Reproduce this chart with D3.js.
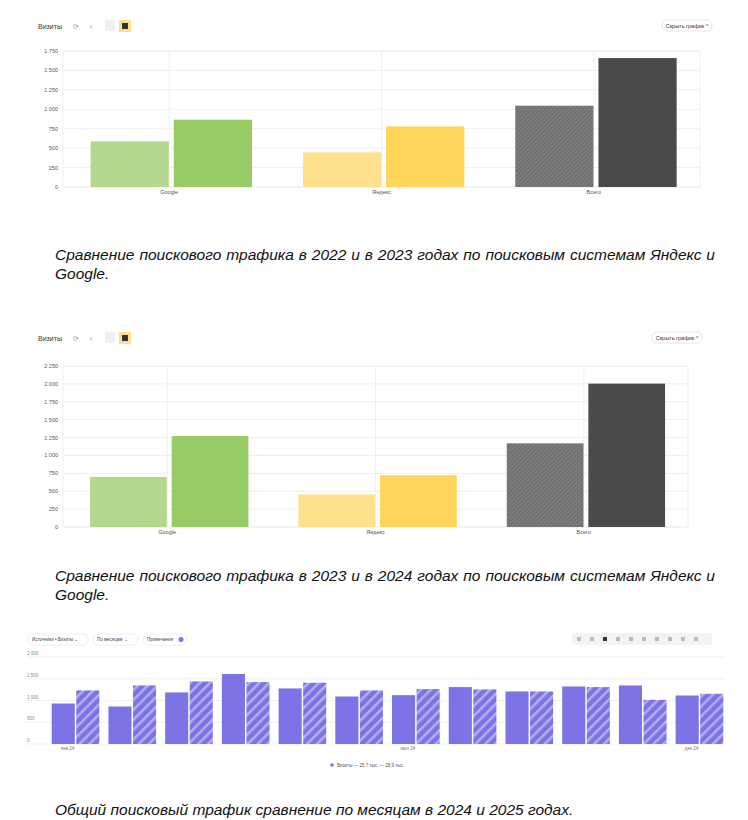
<!DOCTYPE html>
<html><head><meta charset="utf-8">
<script src="https://cdn.jsdelivr.net/npm/d3@7"></script>
<style>
body{margin:0;background:#fff;font-family:"Liberation Sans",Arial,sans-serif}
.cap{position:absolute;left:55px;width:660px;font-style:italic;font-size:15.5px;line-height:19px;text-align:justify;color:#111}
</style></head><body>
<svg id="svg" width="748" height="820" style="position:absolute;left:0;top:0"></svg>
<div class="cap" style="top:245px">Сравнение поискового трафика в 2022 и в 2023 годах по поисковым системам Яндекс и Google.</div>
<div class="cap" style="top:566px">Сравнение поискового трафика в 2023 и в 2024 годах по поисковым системам Яндекс и Google.</div>
<div class="cap" style="top:800px">Общий поисковый трафик сравнение по месяцам в 2024 и 2025 годах.</div>
<script>
const engines = ['Google', 'Яндекс', 'Всего'];
const chart1Prev = [587, 446, 1046];
const chart1Curr = [866, 780, 1659];
const chart1Ticks = [0, 250, 500, 750, 1000, 1250, 1500, 1750];
const chart2Prev = [700, 455, 1169];
const chart2Curr = [1271, 724, 2004];
const chart2Ticks = [0, 250, 500, 750, 1000, 1250, 1500, 1750, 2000, 2250];
const months = ['янв 24','','','','','','июл 24','','','','','дек 24'];
const monthPrev = [931, 862, 1185, 1608, 1277, 1092, 1123, 1308, 1208, 1323, 1346, 1115];
const monthCurr = [1231, 1346, 1438, 1423, 1408, 1231, 1262, 1254, 1208, 1308, 1015, 1154];
const monthTicks = [0, 500, 1000, 1500, 2000];

const svg = d3.select('#svg');
const defs = svg.append('defs');
function pattern(id, bg, fg, size, w) {
  const p = defs.append('pattern').attr('id', id).attr('patternUnits', 'userSpaceOnUse')
    .attr('width', size).attr('height', size).attr('patternTransform', 'rotate(45)');
  p.append('rect').attr('width', size).attr('height', size).attr('fill', bg);
  p.append('rect').attr('width', w).attr('height', size).attr('fill', fg);
}
pattern('pg', '#b7da92', '#aed487', 3, 1);
pattern('py', '#ffe393', '#ffdd85', 3, 1);
pattern('pk', '#7d7d7d', '#6a6a6a', 3, 1);
pattern('pv', '#7b73e6', '#b4afef', 7, 2.5);
const fmt = d => d3.format(',')(d).replace(/,/g, ' ');

function toolbar(y, right) {
  const g = svg.append('g').attr('font-size', 7).attr('fill', '#333');
  g.append('text').attr('x', 38).attr('y', y + 3).text('Визиты');
  g.append('text').attr('x', 73).attr('y', y + 3).attr('fill', '#999').text('⟳');
  g.append('text').attr('x', 89).attr('y', y + 3).attr('fill', '#999').text('≈');
  g.append('rect').attr('x', 105).attr('y', y - 6).attr('width', 10).attr('height', 11).attr('fill', '#f0f0f0');
  g.append('rect').attr('x', 119).attr('y', y - 6).attr('width', 12).attr('height', 12).attr('fill', '#ffe08a');
  g.append('rect').attr('x', 122).attr('y', y - 3).attr('width', 6).attr('height', 6).attr('fill', '#333');
  g.append('rect').attr('x', right - 50).attr('y', y - 6).attr('width', 50).attr('height', 11).attr('rx', 5)
    .attr('fill', '#fff').attr('stroke', '#e5e5e5');
  g.append('text').attr('x', right - 25).attr('y', y + 2).attr('text-anchor', 'middle').attr('font-size', 5.5).text('Скрыть график ^');
}

function groupChart(opt) {
  const x = d3.scaleBand().domain(engines).range([opt.x0, opt.x1]);
  const y = d3.scaleLinear().domain([0, opt.ticks[opt.ticks.length - 1]]).range([opt.y1, opt.y0]);
  const g = svg.append('g');
  g.selectAll('.hg').data(opt.ticks).join('line').attr('x1', opt.x0).attr('x2', opt.x1)
    .attr('y1', d => y(d)).attr('y2', d => y(d)).attr('stroke', '#efefef');
  g.selectAll('.vg').data(engines).join('line').attr('x1', d => x(d) + x.bandwidth() / 2).attr('x2', d => x(d) + x.bandwidth() / 2)
    .attr('y1', opt.y0).attr('y2', opt.y1).attr('stroke', '#efefef');
  g.append('rect').attr('x', opt.x0).attr('y', opt.y0).attr('width', opt.x1 - opt.x0).attr('height', opt.y1 - opt.y0)
    .attr('fill', 'none').attr('stroke', '#efefef');
  g.selectAll('.yl').data(opt.ticks).join('text').attr('x', opt.x0 - 5).attr('y', d => y(d) + 2)
    .attr('text-anchor', 'end').attr('font-size', 5.5).attr('fill', '#555').text(fmt);
  g.selectAll('.xl').data(engines).join('text').attr('x', d => x(d) + x.bandwidth() / 2).attr('y', opt.y1 + 7)
    .attr('text-anchor', 'middle').attr('font-size', 5.5).attr('fill', '#555').text(d => d);
  const inner = d3.scaleBand().domain([0, 1]).range([x.bandwidth() * 0.13, x.bandwidth() * 0.89]).paddingInner(0.06);
  const prevFill = ['url(#pg)', 'url(#py)', 'url(#pk)'];
  const currFill = ['#97cb63', '#ffd55b', '#4a4a4a'];
  engines.forEach((e, i) => {
    [opt.prev[i], opt.curr[i]].forEach((v, k) => {
      g.append('rect').attr('x', x(e) + inner(k)).attr('width', inner.bandwidth())
        .attr('y', y(v)).attr('height', opt.y1 - y(v)).attr('fill', k ? currFill[i] : prevFill[i]);
    });
  });
}

toolbar(26, 712);
groupChart({x0: 63, x1: 700, y0: 51, y1: 187, ticks: chart1Ticks, prev: chart1Prev, curr: chart1Curr});
toolbar(338, 702);
groupChart({x0: 63, x1: 688, y0: 366, y1: 527, ticks: chart2Ticks, prev: chart2Prev, curr: chart2Curr});

// monthly chart
(function () {
  const x0 = 50, x1 = 725, y0 = 657, y1 = 744;
  const idx = d3.range(months.length);
  const x = d3.scaleBand().domain(idx).range([x0, x1]).paddingInner(0.16).paddingOuter(0.03);
  const y = d3.scaleLinear().domain([0, 2000]).range([y1, y0]);
  const g = svg.append('g');
  g.selectAll('.hg').data(monthTicks).join('line').attr('x1', 27).attr('x2', x1)
    .attr('y1', d => y(d)).attr('y2', d => y(d)).attr('stroke', '#f0f0f0');
  g.selectAll('.yl').data(monthTicks).join('text').attr('x', 27).attr('y', d => y(d) - 2)
    .attr('font-size', 4.5).attr('fill', '#888').text(fmt);
  const inner = d3.scaleBand().domain([0, 1]).range([0, x.bandwidth()]).paddingInner(0.06);
  idx.forEach(i => {
    [monthPrev[i], monthCurr[i]].forEach((v, k) => {
      g.append('rect').attr('x', x(i) + inner(k)).attr('width', inner.bandwidth())
        .attr('y', y(v)).attr('height', y1 - y(v)).attr('fill', k ? 'url(#pv)' : '#7b73e6');
    });
  });
  g.selectAll('.xl').data(idx.filter(i => months[i])).join('text').attr('x', i => x(i) + x.bandwidth() / 3)
    .attr('y', y1 + 6).attr('text-anchor', 'middle').attr('font-size', 4.5).attr('fill', '#777').text(i => months[i]);
  g.append('circle').attr('cx', 332).attr('cy', 765).attr('r', 1.8).attr('fill', '#7b73e6');
  g.append('text').attr('x', 337).attr('y', 767).attr('font-size', 4.5).attr('fill', '#555').text('Визиты  — 25,7 тыс.  — 28,9 тыс.');
  const c = svg.append('g').attr('font-size', 4.5).attr('fill', '#444');
  [['Источники • Визиты ⌄', 28, 60], ['По месяцам ⌄', 93, 45], ['Примечания', 143, 44]].forEach(d => {
    c.append('rect').attr('x', d[1]).attr('y', 634).attr('width', d[2]).attr('height', 11).attr('rx', 5)
      .attr('fill', '#fff').attr('stroke', '#eee');
    c.append('text').attr('x', d[1] + 4).attr('y', 641).text(d[0]);
  });
  c.append('circle').attr('cx', 181).attr('cy', 639.5).attr('r', 2.5).attr('fill', '#7b73e6');
  c.append('rect').attr('x', 572).attr('y', 633).attr('width', 140).attr('height', 12).attr('rx', 3).attr('fill', '#f3f3f6');
  c.selectAll('.ic').data(d3.range(10)).join('rect').attr('x', d => 577 + d * 13).attr('y', 637)
    .attr('width', 4).attr('height', 4).attr('fill', d => d === 2 ? '#333' : '#bbb');
})();
</script>
</body></html>
